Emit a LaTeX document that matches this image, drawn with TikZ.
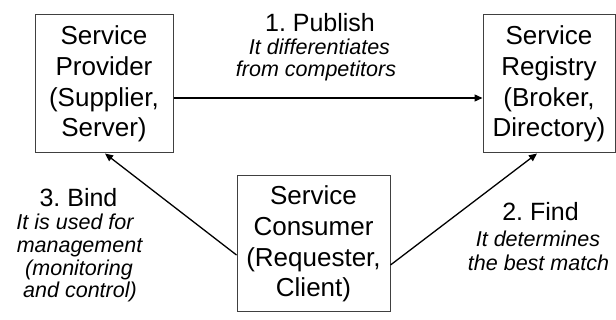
\documentclass[tikz,border=0pt]{standalone}
\usepackage{fontspec}
\setmainfont{Liberation Sans}
\usetikzlibrary{arrows.meta}
\frenchspacing
\begin{document}
\begin{tikzpicture}[x=1pt,y=-1pt,
  box/.style={draw=black!75, line width=1pt, align=center, inner sep=0pt,
    font=\fontsize{26}{30.8}\selectfont},
  conn/.style={line width=1.3pt, -{Triangle[length=8pt,width=7pt]}},
  head/.style={font=\fontsize{25}{27}\selectfont, inner sep=0pt, anchor=base},
  note/.style={font=\fontsize{21.5}{23}\selectfont\itshape, inner sep=0pt, anchor=base, align=center}]
\useasboundingbox (0,0) rectangle (616,320);
\node[box, minimum width=138pt, minimum height=138pt] (prov) at (104,84)
  {Service\\Provider\\(Supplier,\\Server)};
\node[box, minimum width=132pt, minimum height=138pt] (reg) at (549,84)
  {Service\\Registry\\(Broker,\\Directory)};
\node[box, minimum width=153pt, minimum height=136pt] (cons) at (313.5,244)
  {Service\\Consumer\\(Requester,\\Client)};
\draw[conn] (prov.east |- 0,98) -- (reg.west |- 0,98);
\draw[conn] ([yshift=-11pt]cons.west) -- ([xshift=1pt]prov.south);
\draw[conn] ([yshift=-21pt]cons.east) -- ([xshift=-12pt]reg.south);
\node[head] (pub) at (320,32) {1.\ Publish};
\node[note] (pubn) at (319.5,55) {It differentiates};
\node[note] (pubn2) at (316,77) {from competitors};
\node[head] (bind) at (78.5,207) {3.\ Bind};
\node[note] (bindn) at (75,230) {It is used for};
\node[note] (bindn2) at (79.5,253) {management};
\node[note] (bindn3) at (79,276) {(monitoring};
\node[note] (bindn4) at (80,298) {and control)};
\node[head] (find) at (540.5,221) {2.\ Find};
\node[note] (findn) at (538,247) {It determines};
\node[note] (findn2) at (538.5,271) {the best match};
\end{tikzpicture}
\end{document}
